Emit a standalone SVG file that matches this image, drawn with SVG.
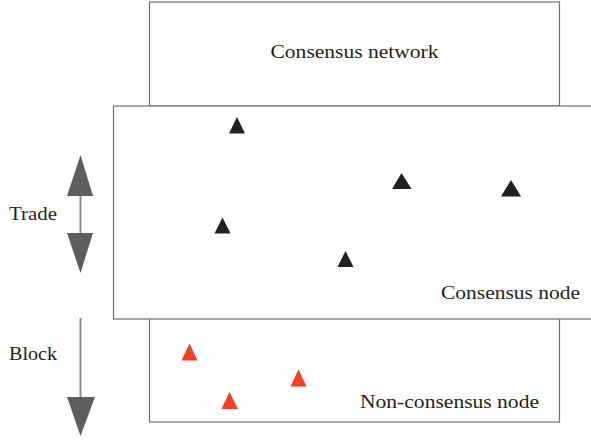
<svg xmlns="http://www.w3.org/2000/svg" width="591" height="441" viewBox="0 0 591 441">
<defs>
<style>
.box{fill:#fff;stroke:#6e6e6e;stroke-width:1.2}
.t{font-family:"Liberation Serif","Times New Roman",serif;font-size:19.5px;fill:#231f20}
.k{fill:#231f20}
.r{fill:#ef4123}
.ln{stroke:#8a8a8a;stroke-width:2}
.hd{fill:#5e5e5e}
</style>
</defs>
<g id="consensus-network">
<rect class="box" x="149.5" y="2" width="410" height="104"/>
<text class="t" x="354.5" y="58" text-anchor="middle" textLength="168" lengthAdjust="spacingAndGlyphs">Consensus network</text>
</g>
<g id="non-consensus-node">
<rect class="box" x="149.5" y="318" width="410" height="104"/>
<text class="t" x="539" y="407.5" text-anchor="end" textLength="179" lengthAdjust="spacingAndGlyphs">Non-consensus node</text>
<polygon class="r" points="189.5,343.5 181.5,360.5 197.5,360.5"/>
<polygon class="r" points="298.5,369.5 290.5,386.5 306.5,386.5"/>
<polygon class="r" points="229.5,392 221.5,409 238,409"/>
</g>
<g id="consensus-node">
<rect class="box" x="113.5" y="106" width="485" height="213"/>
<text class="t" x="580" y="298.5" text-anchor="end" textLength="139" lengthAdjust="spacingAndGlyphs">Consensus node</text>
<polygon class="k" points="237,117 229,133.5 245,133.5"/>
<polygon class="k" points="401.5,173 392,189 411.5,189"/>
<polygon class="k" points="511,180 501,196.5 521,196.5"/>
<polygon class="k" points="222.5,217.5 214.5,233.5 230.5,233.5"/>
<polygon class="k" points="345.5,251 337.5,267 353.5,267"/>
</g>
<g id="labels">
<text class="t" x="9" y="220" textLength="48" lengthAdjust="spacingAndGlyphs">Trade</text>
<text class="t" x="9" y="360" textLength="48" lengthAdjust="spacingAndGlyphs">Block</text>
</g>
<g id="connectors">
<line class="ln" x1="80.5" y1="194" x2="80.5" y2="234"/>
<polygon class="hd" points="80.5,155 67,196 93,196"/>
<polygon class="hd" points="80.5,273 67,233 93,233"/>
<line class="ln" x1="80.5" y1="318" x2="80.5" y2="398"/>
<polygon class="hd" points="80.5,436 67,397 95,397"/>
</g>
</svg>
